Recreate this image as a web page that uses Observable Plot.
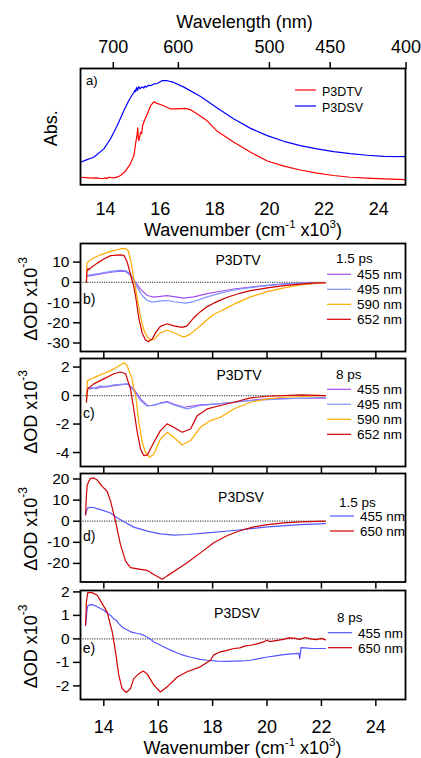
<!DOCTYPE html>
<html><head><meta charset="utf-8">
<script src="https://cdn.jsdelivr.net/npm/d3@7"></script>
<script src="https://cdn.jsdelivr.net/npm/@observablehq/plot@0.6"></script>
<style>
body{margin:0;background:#fff;}
#wrap{position:relative;width:421px;height:758px;overflow:hidden;}
#wrap > div{position:absolute;left:0;}
</style></head><body><div id="wrap"></div><script>
const FONT = "'Liberation Sans', Arial, Helvetica, sans-serif";

// ---------- DATA ----------
// Panel a: absorbance (arb. units), x = wavenumber (10^3 cm^-1)
const wavelengthTicks = [700, 600, 500, 450, 400];
const wavenumberTicks = [14, 16, 18, 20, 22, 24];
const absP3DTV = [[13.085,0.065],[13.3,0.062],[13.5,0.058],[13.65,0.060],[13.8,0.056],[13.94,0.054],[14.0,0.062],[14.05,0.052],[14.12,0.065],[14.3,0.060],[14.45,0.068],[14.55,0.080],[14.73,0.117],[14.91,0.180],[15.04,0.251],[15.10,0.352],[15.16,0.437],[15.18,0.490],[15.20,0.400],[15.22,0.380],[15.26,0.420],[15.28,0.451],[15.32,0.440],[15.36,0.509],[15.42,0.551],[15.53,0.609],[15.65,0.680],[15.77,0.714],[15.89,0.700],[16.13,0.680],[16.38,0.652],[16.62,0.652],[16.93,0.657],[17.11,0.646],[17.36,0.609],[17.72,0.550],[18.09,0.460],[18.70,0.366],[19.31,0.280],[19.92,0.205],[20.53,0.160],[21.13,0.127],[21.74,0.100],[22.35,0.080],[22.96,0.065],[23.58,0.057],[24.18,0.051],[24.98,0.045]];
const absP3DSV = [[13.085,0.194],[13.3,0.214],[13.57,0.237],[13.94,0.309],[14.18,0.394],[14.43,0.509],[14.67,0.637],[14.85,0.723],[14.97,0.770],[15.04,0.794],[15.08,0.815],[15.10,0.800],[15.14,0.838],[15.17,0.812],[15.22,0.845],[15.26,0.825],[15.30,0.835],[15.36,0.842],[15.40,0.832],[15.45,0.848],[15.50,0.840],[15.56,0.855],[15.65,0.852],[15.75,0.865],[15.89,0.871],[16.07,0.895],[16.26,0.895],[16.50,0.880],[16.87,0.840],[17.48,0.760],[18.09,0.660],[18.70,0.565],[19.31,0.485],[19.92,0.423],[20.53,0.374],[21.13,0.337],[21.74,0.309],[22.35,0.286],[22.96,0.268],[23.58,0.254],[24.18,0.245],[24.98,0.243]];

// Panel b: P3DTV 1.5 ps, dOD x10^-3
const b455 = [[13.38,3.0],[13.63,3.6],[13.88,4.2],[14.25,5.0],[14.61,5.5],[14.80,5.4],[14.98,3.5],[15.17,0],[15.35,-3.5],[15.60,-6.5],[15.84,-7.3],[16.08,-6.9],[16.33,-6.6],[16.57,-7.1],[16.94,-7.8],[17.31,-7.2],[17.80,-5.6],[18.29,-4.4],[18.78,-3.3],[19.39,-2.3],[20.01,-1.5],[20.62,-0.8],[21.23,-0.4],[22.15,-0.1]];
const b495 = [[13.38,3.3],[13.63,3.9],[13.88,4.5],[14.25,5.4],[14.61,5.9],[14.80,5.8],[14.98,4.0],[15.10,1.5],[15.23,-2.5],[15.41,-6.5],[15.60,-9.0],[15.78,-9.8],[16.08,-9.2],[16.33,-9.0],[16.57,-9.6],[17.00,-10.3],[17.31,-9.5],[17.80,-7.2],[18.29,-5.3],[18.78,-3.8],[19.39,-2.6],[20.01,-1.6],[20.62,-0.9],[21.23,-0.4],[22.15,-0.1]];
const b590 = [[13.36,0],[13.38,9.6],[13.50,11.0],[13.63,12.0],[13.88,13.6],[14.25,15.3],[14.61,16.5],[14.80,16.8],[14.90,15.5],[15.00,10],[15.10,2],[15.17,-3],[15.23,-8],[15.35,-17],[15.47,-23.5],[15.60,-27],[15.72,-28.4],[15.84,-28.2],[16.08,-25],[16.33,-23.7],[16.57,-24.8],[16.88,-26.8],[17.00,-26.8],[17.19,-25.5],[17.55,-21.5],[17.80,-18.5],[18.04,-15.8],[18.29,-14.3],[18.54,-12.5],[18.78,-10.8],[19.39,-7.2],[20.01,-4.6],[20.62,-2.7],[21.23,-1.3],[21.70,-0.6],[22.15,-0.2]];
const b652 = [[13.36,0],[13.38,5.5],[13.42,6.8],[13.45,6.2],[13.55,7.5],[13.76,9.5],[14.0,11.5],[14.25,13.2],[14.61,13.6],[14.74,13.3],[14.86,10],[14.98,4],[15.10,-2],[15.17,-7],[15.29,-18],[15.41,-25],[15.53,-28.5],[15.65,-29.3],[15.78,-28.0],[15.90,-25],[16.08,-21.8],[16.33,-20.5],[16.57,-21.5],[16.88,-22.3],[17.06,-21.5],[17.31,-17.5],[17.55,-14.5],[17.80,-12],[18.04,-10.3],[18.29,-8.8],[18.54,-7.4],[19.03,-5.3],[19.39,-4.1],[20.01,-2.7],[20.62,-1.6],[21.23,-0.9],[21.70,-0.4],[22.15,-0.2]];

// Panel c: P3DTV 8 ps
const c455 = [[13.40,0.59],[13.5,0.45],[13.6,0.55],[13.7,0.48],[13.88,0.59],[14.1,0.60],[14.37,0.70],[14.6,0.74],[14.86,0.82],[15.10,0.47],[15.35,-0.23],[15.60,-0.70],[15.84,-0.70],[16.08,-0.52],[16.33,-0.42],[16.57,-0.59],[16.94,-0.82],[17.55,-0.66],[18.2,-0.58],[18.78,-0.47],[19.4,-0.33],[20.01,-0.23],[21.23,-0.19],[22.15,-0.19]];
const c495 = [[13.40,0.47],[13.55,0.60],[13.65,0.52],[13.88,0.66],[14.1,0.65],[14.37,0.75],[14.6,0.78],[14.86,0.82],[15.10,0.35],[15.35,-0.35],[15.60,-0.75],[15.84,-0.66],[16.08,-0.55],[16.33,-0.47],[16.57,-0.66],[17.06,-0.94],[17.55,-0.70],[18.2,-0.58],[18.78,-0.47],[19.4,-0.36],[20.01,-0.28],[21.23,-0.19],[22.15,-0.12]];
const c590 = [[13.36,-0.4],[13.40,1.05],[13.57,1.2],[13.76,1.36],[14.0,1.55],[14.25,1.75],[14.49,2.0],[14.61,2.15],[14.74,2.3],[14.86,2.1],[14.95,1.6],[15.04,1.17],[15.10,0.5],[15.17,0],[15.29,-1.88],[15.41,-3.28],[15.53,-3.98],[15.69,-4.34],[15.84,-4.1],[16.08,-3.05],[16.33,-2.58],[16.57,-2.93],[16.88,-3.47],[17.19,-3.16],[17.55,-2.23],[17.92,-1.76],[18.29,-1.52],[18.78,-0.94],[19.39,-0.47],[20.01,-0.23],[20.62,-0.12],[21.5,-0.05],[22.15,0]];
const c652 = [[13.36,-0.47],[13.39,0.2],[13.41,0.47],[13.63,0.82],[14.0,1.17],[14.37,1.53],[14.61,1.65],[14.80,1.53],[14.98,0.47],[15.10,-0.94],[15.23,-2.58],[15.35,-3.75],[15.47,-4.22],[15.60,-4.17],[15.84,-3.28],[16.08,-2.46],[16.33,-1.99],[16.57,-2.23],[16.88,-2.58],[17.19,-2.35],[17.43,-1.41],[17.80,-0.94],[18.29,-0.70],[18.78,-0.47],[19.39,-0.16],[20.01,-0.05],[21.23,0.05],[22.15,0]];

// Panel d: P3DSV 1.5 ps
const d455 = [[13.33,3.2],[13.38,5.5],[13.41,6.3],[13.57,6.6],[13.88,5.5],[14.25,3.9],[14.49,1.6],[14.74,-0.3],[15.10,-2.8],[15.60,-4.7],[16.08,-6.0],[16.57,-6.6],[17.06,-6.3],[17.80,-5.5],[18.78,-4.4],[20.01,-2.7],[21.23,-1.6],[22.15,-1.1]];
const d650 = [[13.33,3],[13.36,12],[13.39,17],[13.45,19],[13.51,20.3],[13.63,20.5],[13.76,19.5],[13.94,16.5],[14.12,14.2],[14.25,9.4],[14.43,0],[14.61,-11],[14.80,-18.9],[14.98,-22],[15.35,-22.8],[15.60,-23.3],[15.84,-25.2],[16.15,-27.5],[16.33,-25.9],[16.70,-22.8],[17.06,-19.7],[17.55,-15],[18.04,-10.2],[18.54,-6.8],[19.03,-4.4],[19.51,-2.7],[20.01,-1.6],[20.62,-0.8],[21.23,-0.3],[22.15,0]];

// Panel e: P3DSV 8 ps
const e455 = [[13.33,0.58],[13.38,1.2],[13.41,1.4],[13.48,1.45],[13.57,1.46],[13.70,1.40],[13.88,1.29],[14.00,1.22],[14.12,1.10],[14.25,1.0],[14.37,0.85],[14.45,0.80],[14.55,0.65],[14.61,0.58],[14.70,0.48],[14.80,0.42],[14.90,0.36],[15.00,0.30],[15.10,0.27],[15.20,0.24],[15.30,0.22],[15.40,0.18],[15.47,0.16],[15.55,0.10],[15.65,0.04],[15.75,-0.05],[15.84,-0.13],[16.0,-0.22],[16.15,-0.31],[16.33,-0.41],[16.5,-0.50],[16.7,-0.60],[16.94,-0.70],[17.2,-0.78],[17.55,-0.87],[17.8,-0.91],[18.17,-0.95],[18.5,-0.96],[18.78,-0.95],[19.1,-0.94],[19.39,-0.91],[19.7,-0.84],[20.01,-0.77],[20.3,-0.72],[20.62,-0.67],[20.9,-0.64],[21.17,-0.62],[21.20,-0.84],[21.25,-0.37],[21.6,-0.40],[22.15,-0.41]];
const e650 = [[13.33,0.58],[13.36,1.57],[13.41,1.97],[13.57,1.97],[13.76,1.86],[13.94,1.5],[14.12,1.15],[14.31,0.3],[14.43,-0.55],[14.55,-1.54],[14.67,-2.11],[14.83,-2.28],[14.98,-2.11],[15.10,-1.69],[15.29,-1.48],[15.45,-1.37],[15.60,-1.5],[15.84,-1.97],[16.08,-2.26],[16.33,-2.04],[16.70,-1.62],[17.06,-1.4],[17.55,-1.19],[17.92,-0.91],[18.04,-0.68],[18.29,-0.55],[18.5,-0.50],[18.78,-0.41],[19.0,-0.38],[19.2,-0.30],[19.39,-0.27],[19.6,-0.22],[19.88,-0.13],[20.0,-0.05],[20.1,-0.12],[20.38,-0.06],[20.6,-0.02],[20.8,0.04],[20.99,0.03],[21.2,-0.02],[21.4,0.06],[21.6,0],[21.8,-0.03],[22.0,0.02],[22.15,-0.04]];

const ticksB = [10, 0, -10, -20, -30];
const ticksC = [2, 0, -2, -4];
const ticksD = [20, 10, 0, -10, -20];
const ticksE = [2, 1, 0, -1, -2];

const colors = {P3DTV: "#ff0000", P3DSV: "#0000ff", n455: "#a050f0", n495: "#7f93ff", n590: "#ffaa00", n652: "#d00000", s455: "#5555ff", s650: "#d00000"};

// ---------- PLOTTING ----------
const wrap = document.getElementById("wrap");
const W = 421, ML = 80, MR = 16;

function addPanel(cfg) {
  const {frameTop, frameBottom, mt, mb, xDomain, yDomain, marks} = cfg;
  const h = mt + (frameBottom - frameTop) + mb;
  const svg = Plot.plot({
    width: W, height: h,
    marginLeft: ML, marginRight: MR, marginTop: mt, marginBottom: mb,
    x: {domain: xDomain, axis: null}, y: {domain: yDomain, axis: null},
    style: {fontFamily: FONT, background: "transparent", overflow: "visible", color: "#000"},
    marks: [...marks, Plot.frame({stroke: "#000", strokeWidth: 1.8})]
  });
  const div = document.createElement("div");
  div.style.top = (frameTop - mt) + "px";
  div.appendChild(svg);
  wrap.appendChild(div);
}

const line = (data, c) => Plot.line(data, {x: d => d[0], y: d => d[1], stroke: c, strokeWidth: 1.2});
const xDomBE = [13.143, 25.09];
const dataEnd = d3.max([...b455, ...b652], d => d[0]);
const zero = () => Plot.ruleY([0], {x1: xDomBE[0], x2: dataEnd, stroke: "#555", strokeWidth: 1.2, strokeDasharray: "1.2,1.2"});
const yAxis = t => Plot.axisY({ticks: t, tickSize: 7, tickPadding: 4, fontSize: 15.5, tickFormat: d => String(d), label: null, strokeWidth: 1.5});
const xAxisBlank = () => Plot.axisX({ticks: wavenumberTicks, tickSize: 7, tickFormat: () => "", label: null, strokeWidth: 1.5});

// Panel a
addPanel({
  frameTop: 68, frameBottom: 184.3, mt: 68, mb: 30,
  xDomain: [13.085, 24.98], yDomain: [0, 1],
  marks: [
    line(absP3DTV, colors.P3DTV),
    line(absP3DSV, colors.P3DSV),
    Plot.axisX(wavelengthTicks.map(w => 1e4 / w), {anchor: "top", tickSize: 7, tickPadding: 8, fontSize: 18, tickFormat: d => String(Math.round(1e4 / d)), label: null, strokeWidth: 1.5}),
    Plot.axisX({ticks: wavenumberTicks, anchor: "bottom", tickSize: 0, tickPadding: 17, fontSize: 18, tickFormat: d => String(d), label: null})
  ]
});

// Panel b
addPanel({frameTop: 243, frameBottom: 351, mt: 12, mb: 10, xDomain: xDomBE, yDomain: [-34.2, 19.2],
  marks: [zero(), line(b455, colors.n455), line(b495, colors.n495), line(b590, colors.n590), line(b652, colors.n652), yAxis(ticksB), xAxisBlank()]});
// Panel c
addPanel({frameTop: 358, frameBottom: 466, mt: 12, mb: 10, xDomain: xDomBE, yDomain: [-4.98, 2.6],
  marks: [zero(), line(c455, colors.n455), line(c495, colors.n495), line(c590, colors.n590), line(c652, colors.n652), yAxis(ticksC), xAxisBlank()]});
// Panel d
addPanel({frameTop: 472.5, frameBottom: 581, mt: 12, mb: 10, xDomain: xDomBE, yDomain: [-28.8, 22.6],
  marks: [zero(), line(d455, colors.s455), line(d650, colors.s650), yAxis(ticksD), xAxisBlank()]});
// Panel e
addPanel({frameTop: 590, frameBottom: 699, mt: 12, mb: 59, xDomain: xDomBE, yDomain: [-2.58, 2.06],
  marks: [zero(), line(e455, colors.s455), line(e650, colors.s650), yAxis(ticksE),
    Plot.axisX({ticks: wavenumberTicks, tickSize: 7, tickPadding: 14, fontSize: 18, tickFormat: d => String(d), label: null, strokeWidth: 1.5})]});

// ---------- TEXT OVERLAY ----------
const ov = d3.select("#wrap").append("svg").attr("width", W).attr("height", 758)
  .style("position", "absolute").style("left", 0).style("top", 0).style("pointer-events", "none")
  .attr("font-family", FONT);

function txt(x, y, parts, size, anchor = "start", rot = 0) {
  const t = ov.append("text").attr("transform", `translate(${x},${y}) rotate(${rot})`)
    .attr("font-size", size).attr("text-anchor", anchor).attr("fill", "#000");
  for (const p of [].concat(parts)) {
    if (typeof p === "string") t.append("tspan").text(p);
    else t.append("tspan").attr("font-size", p.size).attr("dy", p.dy).text(p.t);
  }
}
function legend(x, yTitle, title, items, rowY0) {
  txt(x + 9, yTitle, title, 13.5);
  items.forEach(([lab, c], i) => {
    const y = rowY0 + i * 15;
    ov.append("line").attr("x1", x).attr("x2", x + 24).attr("y1", y).attr("y2", y).attr("stroke", c).attr("stroke-width", 1.2);
    txt(x + 30, y + 4.8, lab, 13.5);
  });
}

const wnLabel = ["Wavenumber (cm", {t: "-1", size: 11.5, dy: -8}, {t: " x10", size: 18, dy: 8}, {t: "3", size: 11.5, dy: -8}, {t: ")", size: 18, dy: 8}];
const odLabel = ["\u0394OD x10", {t: "-3", size: 12, dy: -10}];

txt(244.5, 27.7, "Wavelength (nm)", 18, "middle");
txt(56.7, 128.3, "Abs.", 18, "middle", -90);
txt(243, 236, wnLabel, 18, "middle");
txt(242.5, 754, wnLabel, 18, "middle");
txt(86, 85, "a)", 13);
ov.append("line").attr("x1", 295).attr("x2", 316).attr("y1", 90).attr("y2", 90).attr("stroke", colors.P3DTV).attr("stroke-width", 1.2);
txt(322, 96, "P3DTV", 12.5);
ov.append("line").attr("x1", 295).attr("x2", 316).attr("y1", 106).attr("y2", 106).attr("stroke", colors.P3DSV).attr("stroke-width", 1.2);
txt(322, 111.5, "P3DSV", 12.5);

[[299], [412], [529], [646.5]].forEach(([cy]) => txt(37.3, cy, odLabel, 18, "middle", -90));

txt(238, 265, "P3DTV", 14, "middle");
txt(83, 304, "b)", 14);
legend(327, 263.3, "1.5 ps", [["455 nm", colors.n455], ["495 nm", colors.n495], ["590 nm", colors.n590], ["652 nm", colors.n652]], 274.3);

txt(239, 380, "P3DTV", 14, "middle");
txt(83, 418, "c)", 14);
legend(327, 379, "8 ps", [["455 nm", colors.n455], ["495 nm", colors.n495], ["590 nm", colors.n590], ["652 nm", colors.n652]], 389.3);

txt(241, 501.7, "P3DSV", 14, "middle");
txt(83, 541, "d)", 14);
legend(330, 506.5, "1.5 ps", [["455 nm", colors.s455], ["650 nm", colors.s650]], 516);

txt(237, 618.3, "P3DSV", 14, "middle");
txt(82.7, 653, "e)", 14);
legend(328, 621.7, "8 ps", [["455 nm", colors.s455], ["650 nm", colors.s650]], 632.7);
</script></body></html>
